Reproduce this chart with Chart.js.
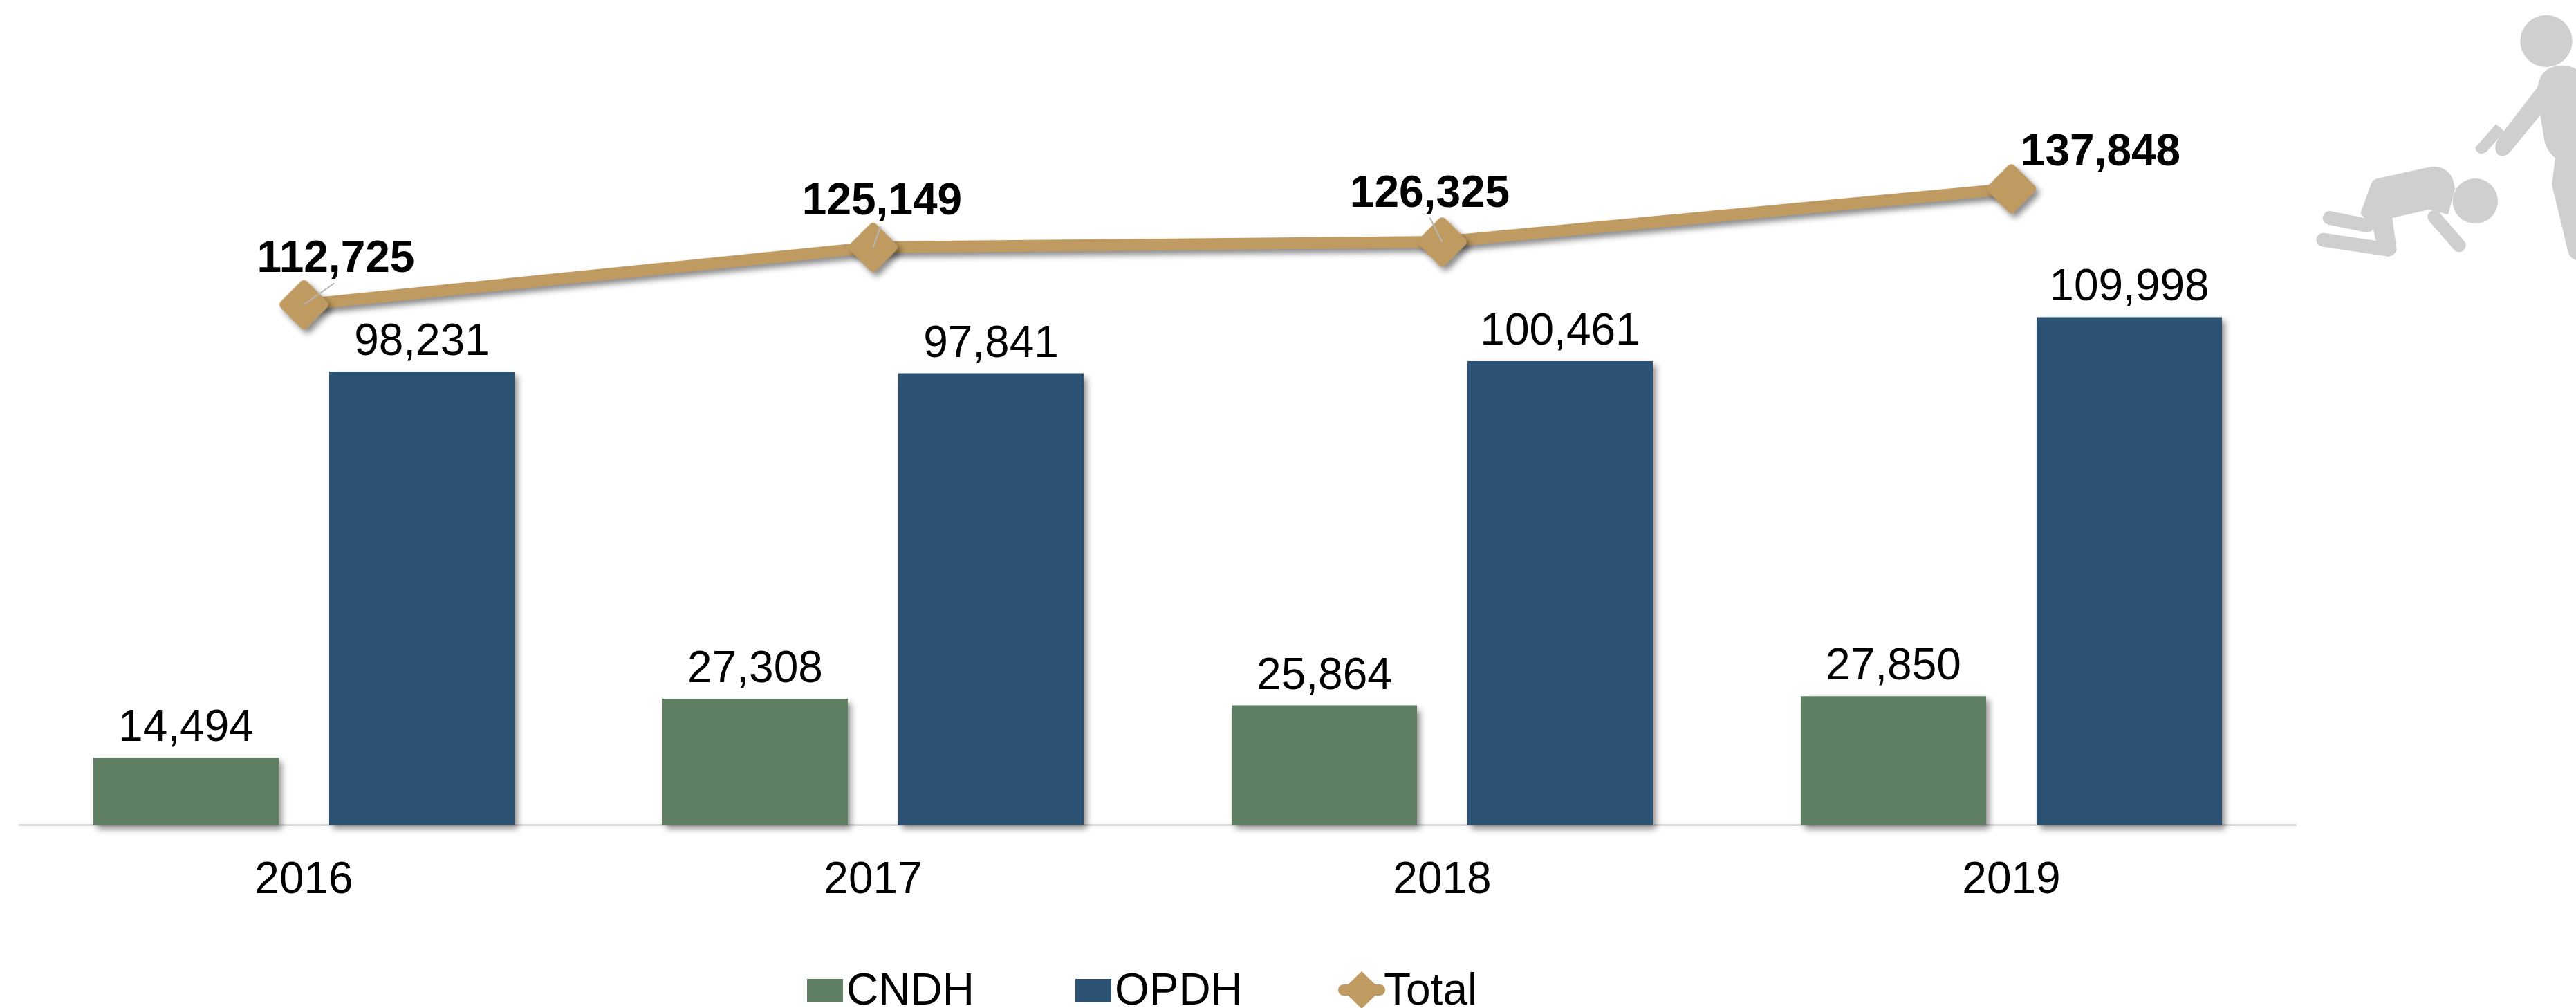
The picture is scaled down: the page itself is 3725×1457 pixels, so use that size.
<!DOCTYPE html>
<html>
<head>
<meta charset="utf-8">
<title>CNDH OPDH Total</title>
<script src="https://cdn.jsdelivr.net/npm/chart.js@4"></script>
<style>
  html, body { margin: 0; padding: 0; background: #fff; overflow: hidden; }
  #wrap { position: relative; width: 3725px; height: 1457px; }
  #icon { position: absolute; left: 3300px; top: 0; width: 425px; height: 420px; }
</style>
</head>
<body>
<div id="wrap">
  <canvas id="myChart" width="3725" height="1457"></canvas>
  <svg id="icon" viewBox="0 0 1275 1260" fill="#cfcfcf" stroke="none">
    <circle cx="1146" cy="178" r="113"/>
    <path d="M1275,300 C1240,278 1175,278 1140,310 C1120,328 1115,350 1108,378 L945,590 C920,625 920,650 935,668 C955,685 975,675 990,658 L1120,500 L1138,610 C1145,640 1160,665 1185,685 L1170,800 L1240,1090 C1245,1110 1260,1125 1275,1128 Z"/>
    <path d="M838,640 L928,538 L962,568 L930,610 L885,660 L860,668 L842,655 Z"/>
    <circle cx="838" cy="872" r="98"/>
    <path d="M410,775 L650,722 Q740,720 750,820 L720,930 L640,908 L478,945 L497,1080 Q490,1112 455,1112 L405,1040 L395,990 L340,925 L385,800 Q392,780 410,775 Z"/>
    <g stroke="#cfcfcf" stroke-linecap="round" fill="none">
      <line x1="660" y1="940" x2="768" y2="1064" stroke-width="58"/>
      <line x1="206" y1="945" x2="370" y2="978" stroke-width="60"/>
      <line x1="178" y1="1040" x2="460" y2="1082" stroke-width="60"/>
    </g>
  </svg>
</div>

<script>
'use strict';

let years = ['2016', '2017', '2018', '2019'];
let cndhValues = [14494, 27308, 25864, 27850];
let opdhValues = [98231, 97841, 100461, 109998];
let totalValues = [112725, 125149, 126325, 137848];

let green = '#5f7f63';
let blue = '#2b5273';
let gold = '#c09b61';
let fontName = '"Liberation Sans", Arial, sans-serif';

// where each total label sits relative to its point, and the little leader lines
let totalLabelOffset = [[46, -47], [13, -47], [-18, -51], [129, -34]];
let leaderEnd = [[44, -31], [11, -30], [-18, -35], null];

function diamondImage(size, halfDiag, joinWidth) {
  let c = document.createElement('canvas');
  c.width = size;
  c.height = size;
  let g = c.getContext('2d');
  let m = size / 2;
  g.fillStyle = gold;
  g.strokeStyle = gold;
  g.lineWidth = joinWidth;
  g.lineJoin = 'round';
  g.beginPath();
  g.moveTo(m, m - halfDiag);
  g.lineTo(m + halfDiag, m);
  g.lineTo(m, m + halfDiag);
  g.lineTo(m - halfDiag, m);
  g.closePath();
  g.fill();
  g.stroke();
  return c;
}

let shadowPlugin = {
  id: 'shadowPlugin',
  beforeDatasetDraw(chart) {
    let c = chart.ctx;
    c.save();
    c.shadowColor = 'rgba(0,0,0,0.45)';
    c.shadowBlur = 9;
    c.shadowOffsetX = 5;
    c.shadowOffsetY = 6;
  },
  afterDatasetDraw(chart) {
    chart.ctx.restore();
  }
};

let valueLabels = {
  id: 'valueLabels',
  afterDatasetsDraw(chart) {
    let ctx = chart.ctx;
    ctx.save();
    ctx.fillStyle = '#000';
    ctx.textAlign = 'center';
    ctx.textBaseline = 'alphabetic';

    ctx.font = '64px ' + fontName;
    [0, 1].forEach(function (d) {
      chart.getDatasetMeta(d).data.forEach(function (bar, i) {
        ctx.fillText(chart.data.datasets[d].data[i].toLocaleString('en-US'), bar.x, bar.y - 24);
      });
    });

    ctx.font = 'bold 64px ' + fontName;
    chart.getDatasetMeta(2).data.forEach(function (pt, i) {
      let off = totalLabelOffset[i];
      ctx.fillText(totalValues[i].toLocaleString('en-US'), pt.x + off[0], pt.y + off[1]);
      if (leaderEnd[i]) {
        ctx.strokeStyle = '#b5b5b5';
        ctx.lineWidth = 2;
        ctx.beginPath();
        ctx.moveTo(pt.x, pt.y);
        ctx.lineTo(pt.x + leaderEnd[i][0], pt.y + leaderEnd[i][1]);
        ctx.stroke();
      }
    });
    ctx.restore();
  }
};

// legend is drawn by hand, the built in one can't do the tight box to text gap
let legendPlugin = {
  id: 'legendPlugin',
  afterDraw(chart) {
    let ctx = chart.ctx;
    let sets = chart.data.datasets;
    ctx.save();
    ctx.font = '64px ' + fontName;
    ctx.textAlign = 'left';
    ctx.textBaseline = 'alphabetic';

    ctx.fillStyle = sets[0].backgroundColor;
    ctx.fillRect(1167, 1415, 52, 33);
    ctx.fillStyle = sets[1].backgroundColor;
    ctx.fillRect(1555, 1415, 52, 33);

    ctx.strokeStyle = gold;
    ctx.fillStyle = gold;
    ctx.lineWidth = 16;
    ctx.lineCap = 'round';
    ctx.beginPath();
    ctx.moveTo(1943, 1431);
    ctx.lineTo(1995, 1431);
    ctx.stroke();
    ctx.beginPath();
    ctx.moveTo(1969, 1404);
    ctx.lineTo(1997, 1431);
    ctx.lineTo(1969, 1458);
    ctx.lineTo(1941, 1431);
    ctx.closePath();
    ctx.fill();

    ctx.fillStyle = '#000';
    ctx.fillText(sets[0].label, 1224, 1452);
    ctx.fillText(sets[1].label, 1612, 1452);
    ctx.fillText(sets[2].label, 2001, 1452);
    ctx.restore();
  }
};

let ctx = document.getElementById('myChart').getContext('2d');
let myChart = new Chart(ctx, {
  type: 'bar',
  data: {
    labels: years,
    datasets: [{
      label: 'CNDH',
      data: cndhValues,
      backgroundColor: green,
      categoryPercentage: 0.8287,
      barPercentage: 0.786,
      clip: false,
      order: 2
    }, {
      label: 'OPDH',
      data: opdhValues,
      backgroundColor: blue,
      categoryPercentage: 0.8287,
      barPercentage: 0.786,
      clip: false,
      order: 2
    }, {
      type: 'line',
      label: 'Total',
      data: totalValues,
      borderColor: gold,
      backgroundColor: gold,
      borderWidth: 17,
      tension: 0,
      pointStyle: diamondImage(76, 29, 13),
      pointRadius: 36,
      clip: false,
      order: 1
    }]
  },
  options: {
    responsive: false,
    animation: false,
    layout: { autoPadding: false, padding: { left: 28, right: 405, top: 125, bottom: 0 } },
    plugins: {
      legend: { display: false },
      tooltip: { enabled: false }
    },
    scales: {
      x: {
        grid: { display: false, drawTicks: false },
        border: { display: true, color: '#d9d9d9', width: 3 },
        ticks: {
          color: '#000',
          padding: 43,
          font: { family: fontName, size: 64 }
        },
        afterFit(scale) { scale.height = 265; }
      },
      y: {
        display: false,
        min: 0,
        max: 160000
      }
    }
  },
  plugins: [shadowPlugin, valueLabels, legendPlugin]
});
</script>
</body>
</html>
